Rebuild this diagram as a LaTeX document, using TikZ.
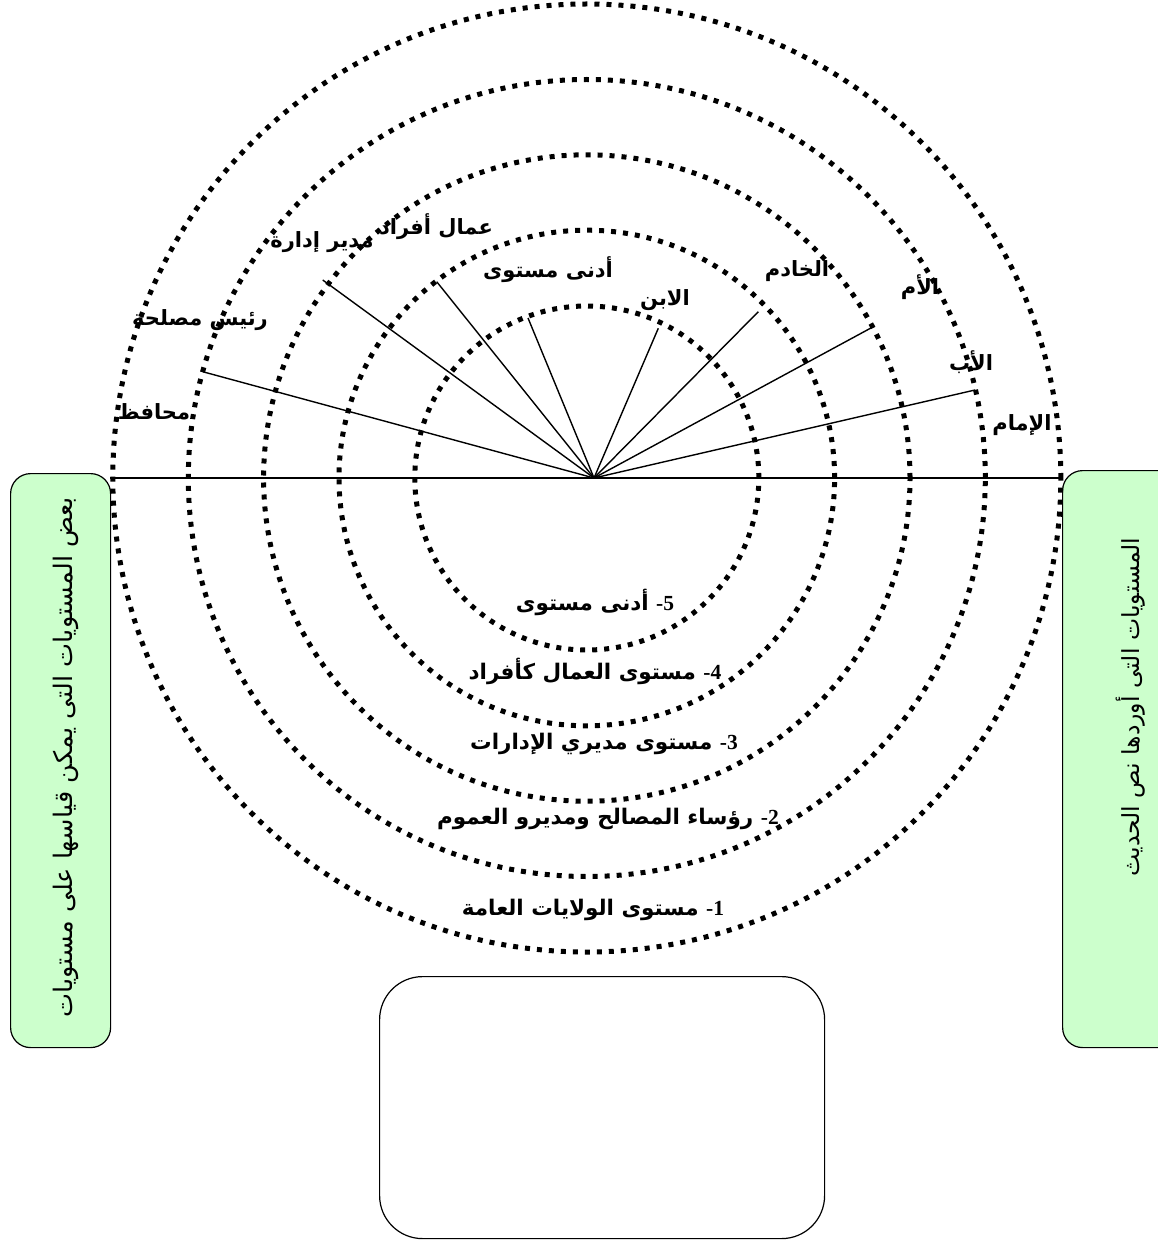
\documentclass[tikz,border=0pt]{standalone}
\usepackage{fontspec}
\setmainfont{Liberation Sans}
\newfontfamily\arabicfont[Script=Arabic]{DejaVu Sans}
\newfontfamily\numfont{Liberation Serif}
\TeXXeTstate=1
\definecolor{boxgreen}{RGB}{204,255,204}
\begin{document}
\begin{tikzpicture}[x=1pt,y=-1pt,
  ring/.style={line width=5pt, dash pattern=on 5pt off 7pt},
  spoke/.style={line width=1.4pt},
  lab/.style={font=\arabicfont\bfseries\fontsize{21}{24}\selectfont, inner sep=0pt},
  lvl/.style={font=\arabicfont\bfseries\fontsize{21.5}{25}\selectfont, inner sep=0pt},
  sidebox/.style={draw, line width=1.2pt, fill=boxgreen, rounded corners=20pt, anchor=north west},
  sidetext/.style={font=\arabicfont\fontsize{24}{28}\selectfont, inner sep=0pt, rotate=90}]
\useasboundingbox (0,0) rectangle (1157,1241);
% side boxes and bottom box
\node[sidebox, minimum width=100pt, minimum height=574pt] (lbox) at (10,473) {};
\node[sidebox, minimum width=140pt, minimum height=577pt] (rbox) at (1062,470) {};
\node[draw, line width=1.2pt, rounded corners=43pt, minimum width=445pt, minimum height=262pt, anchor=north west] (bbox) at (379,976) {};
\node[sidetext, font=\arabicfont\fontsize{25.5}{30}\selectfont] (ltext) at (66,757) {\beginR بعض المستويات التى يمكن قياسها على مستويات\endR};
\node[sidetext, font=\arabicfont\fontsize{23.5}{28}\selectfont] (rtext) at (1131,707) {\beginR المستويات التى أوردها نص الحديث\endR};
% hub and spokes
\coordinate (hub) at (594,478);
\coordinate (hl) at (110,478);
\coordinate (hr) at (1062,478);
\coordinate (e1) at (202.7,371.7);
\coordinate (e2) at (322.7,280);
\coordinate (e3) at (436.7,281.7);
\coordinate (e4) at (528,318);
\coordinate (e5) at (658.3,328.3);
\coordinate (e6) at (758.3,311.7);
\coordinate (e7) at (873.3,326.7);
\coordinate (e8) at (975,390);
\draw[spoke] (hl) -- (hr);
\foreach \e in {e1,e2,e3,e4,e5,e6,e7,e8} \draw[spoke] (hub) -- (\e);
% rings
\coordinate (c) at (586.8,478);
\foreach \r in {474,398.5,323.2,247.8,172} \draw[ring] (c) circle [radius=\r pt];
% top labels
\node[lab] (t1) at (436,227) {\beginR عمال أفراد\endR};
\node[lab] (t2) at (322,242) {\beginR مدير إدارة\endR};
\node[lab] (t3) at (200,320) {\beginR رئيس مصلحة\endR};
\node[lab] (t4) at (154,412) {\beginR محافظ\endR};
\node[lab] (t5) at (548,270) {\beginR أدنى مستوى\endR};
\node[lab] (t6) at (665,300) {\beginR الابن\endR};
\node[lab] (t7) at (797,271) {\beginR الخادم\endR};
\node[lab] (t8) at (920,287) {\beginR الأم\endR};
\node[lab] (t9) at (971,362) {\beginR الأب\endR};
\node[lab] (t10) at (1022,425) {\beginR الإمام\endR};
% level labels
\node[lvl] (l5) at (595,602) {\beginR{\numfont\bfseries -5} أدنى مستوى\endR};
\node[lvl] (l4) at (595,671) {\beginR{\numfont\bfseries -4} مستوى العمال كأفراد\endR};
\node[lvl] (l3) at (604,744) {\beginR{\numfont\bfseries -3} مستوى مديري الإدارات\endR};
\node[lvl] (l2) at (608,819) {\beginR{\numfont\bfseries -2} رؤساء المصالح ومديرو العموم\endR};
\node[lvl] (l1) at (593,910) {\beginR{\numfont\bfseries -1} مستوى الولايات العامة\endR};
\end{tikzpicture}
\end{document}
